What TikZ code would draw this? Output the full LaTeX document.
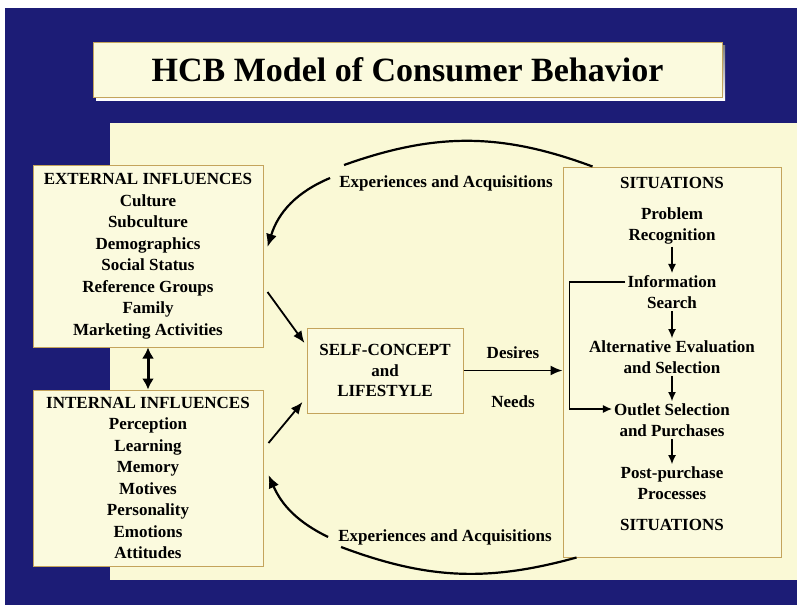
\documentclass[tikz,border=0pt]{standalone}
\usepackage{fontspec}
\setmainfont{Liberation Serif}
\usetikzlibrary{arrows.meta}
\definecolor{navy}{RGB}{28,28,118}
\definecolor{cream}{RGB}{250,249,214}
\definecolor{boxfill}{RGB}{251,250,222}
\definecolor{tan}{RGB}{196,164,92}
\definecolor{shade}{RGB}{150,118,60}
\begin{document}
\begin{tikzpicture}[x=1pt,y=-1pt,
    box/.style={draw=tan,line width=1pt,fill=boxfill,inner sep=0pt},
    item/.style={font=\fontsize{17}{21.5}\selectfont\bfseries,align=center,inner sep=2pt},
    flow/.style={-{Latex[length=12pt,width=10pt]},line width=1.8pt},
    link/.style={-{Latex[length=9pt,width=8pt]},line width=1.2pt},
    curve/.style={line width=2.2pt}]
  \useasboundingbox (0,0) rectangle (797,605);
  \fill[navy] (5,8) rectangle (797,605);
  \fill[cream] (110,123) rectangle (797,580);
  % title
  \fill[shade] (96,45) rectangle (725,100);
  \node[box,minimum width=629pt,minimum height=55pt,font=\fontsize{34}{40}\selectfont\bfseries] (title) at (407.5,69.5) {HCB Model of Consumer Behavior};
  % influences
  \node[box,item,minimum width=230pt,minimum height=182pt] (ext) at (148,256)
    {EXTERNAL INFLUENCES\\Culture\\Subculture\\Demographics\\Social Status\\Reference Groups\\Family\\Marketing Activities};
  \node[box,item,minimum width=230pt,minimum height=176pt] (int) at (148,478)
    {INTERNAL INFLUENCES\\Perception\\Learning\\Memory\\Motives\\Personality\\Emotions\\Attitudes};
  \node[box,item,minimum width=156pt,minimum height=85pt,font=\fontsize{17}{20.5}\selectfont\bfseries] (self) at (385,370.5)
    {SELF-CONCEPT\\and\\LIFESTYLE};
  % situations
  \node[box,minimum width=218pt,minimum height=390pt] (sit) at (672,362) {};
  \node[item] (sittop) at (672,183) {SITUATIONS};
  \node[item] (prob) at (672,226) {Problem\\Recognition};
  \node[item] (info) at (672,292) {Information\\Search};
  \node[item] (alt) at (672,357) {Alternative Evaluation\\and Selection};
  \node[item] (outlet) at (672,420) {Outlet Selection\\and Purchases};
  \node[item] (post) at (672,483) {Post-purchase\\Processes};
  \node[item] (sitbot) at (672,525) {SITUATIONS};
  \draw[link] (prob) -- (info);
  \draw[link] (info) -- (alt);
  \draw[link] (alt) -- (outlet);
  \draw[link] (outlet) -- (post);
  \draw[link] ([yshift=10pt]info.west) -- ++(-56,0) |- ([yshift=11pt]outlet.west);
  % experiences
  \node[item] (exptop) at (446,183) {Experiences and Acquisitions};
  \node[item] (expbot) at (445,537) {Experiences and Acquisitions};
  \draw[curve,-{Latex[length=13pt,width=11pt]}] ([xshift=-7pt,yshift=5pt]exptop.west) to[bend right=25] ([xshift=4pt,yshift=9pt]ext.east);
  \draw[curve] ([xshift=7pt,yshift=18pt]exptop.west) to[bend left=20] ([xshift=30pt]sit.north west);
  \draw[curve,-{Latex[length=13pt,width=11pt]}] ([xshift=-8pt]expbot.west) to[bend left=20] ([xshift=5pt,yshift=3pt]int.east);
  \draw[curve] ([xshift=5pt,yshift=-10pt]expbot.west) to[bend right=18] ([xshift=14pt]sit.south west);
  % arrows
  \draw[flow] ([xshift=4pt,yshift=-36pt]ext.east) -- ([xshift=-2pt,yshift=27.5pt]self.west);
  \draw[flow] ([xshift=5pt,yshift=35pt]int.east) -- ([xshift=-4pt,yshift=-31.5pt]self.west);
  \draw[{Latex[length=11pt,width=12pt]}-{Latex[length=11pt,width=12pt]},line width=3pt] (ext) -- (int);
  \draw[flow] (self.east) -- (self.east -| sit.west)
    node[item,midway,above=9pt] {Desires}
    node[item,midway,below=22pt] {Needs};
\end{tikzpicture}
\end{document}
